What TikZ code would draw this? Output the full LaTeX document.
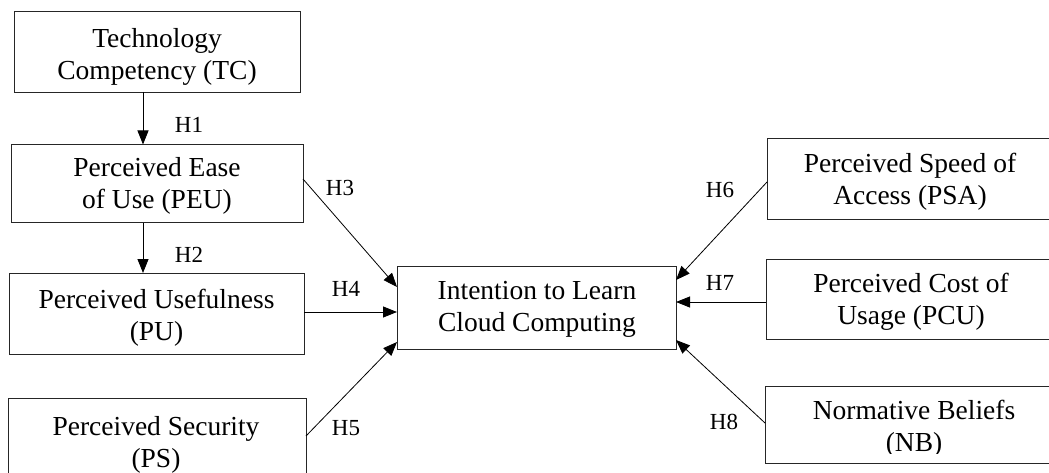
\documentclass[tikz,border=0pt]{standalone}
\usepackage{fontspec}
\setmainfont{Liberation Serif}
\usetikzlibrary{arrows.meta,calc}
\tikzset{
  box/.style={draw=black!85, line width=0.9pt, inner sep=0pt, outer sep=0pt},
  txt/.style={align=center, inner sep=0pt, font=\fontsize{27.5}{32}\selectfont},
  hlab/.style={inner sep=0pt, font=\fontsize{23}{26}\selectfont},
  arr/.style={line width=0.8pt, -{Triangle[length=14pt,width=11pt]}}
}
\begin{document}
\begin{tikzpicture}[x=1pt,y=-1pt]
\clip (0,0) rectangle (1049,473);
\fill[white] (0,0) rectangle (1049,473);
% boxes
\node[box, minimum width=286pt, minimum height=81pt] (tc) at (157,51.5) {};
\node[box, minimum width=292pt, minimum height=78pt] (peu) at (157,183.5) {};
\node[box, minimum width=295pt, minimum height=81pt] (pu) at (156.5,313.5) {};
\node[box, minimum width=298pt, minimum height=98pt] (ps) at (157,447) {};
\node[box, minimum width=279pt, minimum height=83pt] (ilc) at (536.5,307.5) {};
\node[box, minimum width=290pt, minimum height=81pt] (psa) at (912,178.5) {};
\node[box, minimum width=290pt, minimum height=80pt] (pcu) at (911,299) {};
\node[box, minimum width=290pt, minimum height=77pt] (nb) at (910,424.5) {};
% texts
\node[txt] at (157,57) {Technology\\Competency (TC)};
\begin{scope}
\clip ([yshift=9pt]peu.south west) rectangle (peu.north east);
\node[txt] at (157,186) {Perceived Ease\\of Use (PEU)};
\end{scope}
\node[txt] at (156.5,318) {Perceived Usefulness\\(PU)};
\node[txt] at (156,445) {Perceived Security\\(PS)};
\node[txt] at (537,309) {Intention to Learn\\Cloud Computing};
\node[txt] at (910,181.5) {Perceived Speed of\\Access (PSA)};
\node[txt] at (911,302) {Perceived Cost of\\Usage (PCU)};
\begin{scope}
\clip ([yshift=10pt]nb.south west) rectangle (nb.north east);
\node[txt] at (914,429) {Normative Beliefs\\(NB)};
\end{scope}
% connectors
\draw[arr] ([xshift=-14pt]tc.south) -- ([xshift=-14pt]peu.north);
\draw[arr] ([xshift=-14pt]peu.south) -- ([xshift=-13.5pt]pu.north);
\draw[arr] ([yshift=4.5pt]peu.east) -- ([yshift=20.5pt]ilc.west);
\draw[arr] ([yshift=1.5pt]pu.east) -- ([yshift=-4.5pt]ilc.west);
\draw[arr] ([yshift=11pt]ps.east) -- ([yshift=-34.5pt]ilc.west);
\draw[arr] ([yshift=-3.5pt]psa.west) -- ([yshift=27.5pt]ilc.east);
\draw[arr] ([yshift=-3pt]pcu.west) -- ([yshift=5.5pt]ilc.east);
\draw[arr] ([yshift=1.5pt]nb.west) -- ([yshift=-32.5pt]ilc.east);
% labels
\node[hlab] (h1) at (189,125) {H1};
\node[hlab] (h2) at (189,255) {H2};
\node[hlab] (h3) at (340,188) {H3};
\node[hlab] (h4) at (346,289) {H4};
\node[hlab] (h5) at (346,428) {H5};
\node[hlab] (h6) at (720,190) {H6};
\node[hlab] (h7) at (720,283) {H7};
\node[hlab] (h8) at (724,422) {H8};
\end{tikzpicture}
\end{document}
